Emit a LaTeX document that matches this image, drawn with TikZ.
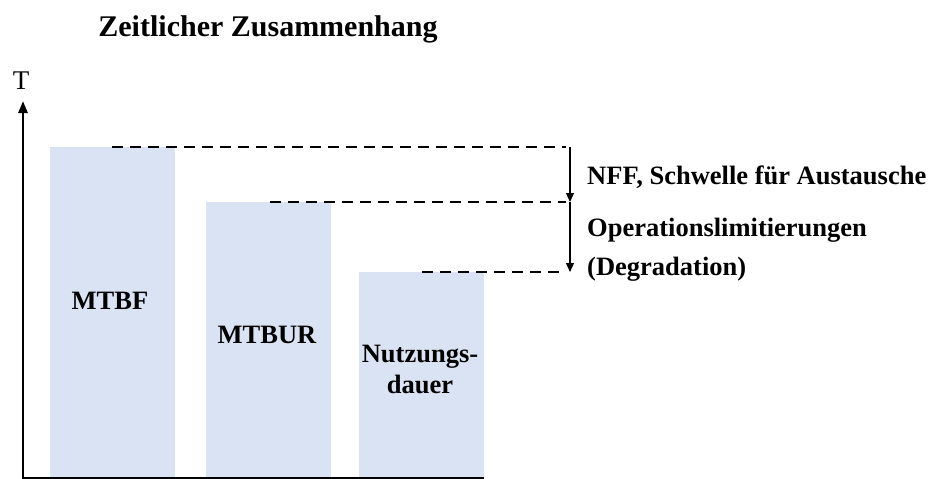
\documentclass[tikz,border=0pt]{standalone}
\usepackage{fontspec}
\setmainfont{Liberation Serif}
\usetikzlibrary{arrows.meta}
\definecolor{barfill}{HTML}{DAE3F3}
\begin{document}
\begin{tikzpicture}[x=1pt,y=-1pt,
  bar/.style={fill=barfill,draw=none},
  lbl/.style={font=\bfseries\fontsize{26.5}{31}\selectfont,inner sep=0pt},
  guide/.style={line width=2.6pt,dash pattern=on 11pt off 7pt},
  axis/.style={line width=2.6pt,-{Triangle[width=9pt,length=12pt]}},
  span/.style={line width=1.2pt,-{Triangle[width=8pt,length=9pt]}}]
\useasboundingbox (0,0) rectangle (934,479);
% bars
\fill[bar] (50,147) rectangle (175,477);
\fill[bar] (206,202) rectangle (331,477);
\fill[bar] (359,272) rectangle (484,477);
% axes
\coordinate (o) at (23,478);
\coordinate (ytop) at (23,101);
\coordinate (xend) at (484,478);
\draw[line width=2.6pt] (21.7,478) -- (xend);
\draw[axis] (o) -- (ytop);
\node[font=\fontsize{27}{32}\selectfont,inner sep=0pt,anchor=base] (T) at (21,89) {T};
% dashed guide levels
\coordinate (l1s) at (112,147); \coordinate (l1e) at (566,147);
\coordinate (l2s) at (270,202); \coordinate (l2e) at (566,202);
\coordinate (l3s) at (422,272); \coordinate (l3e) at (566,272);
\draw[guide] (l1s) -- (l1e);
\draw[guide] (l2s) -- (l2e);
\draw[guide] (l3s) -- (l3e);
% spans between levels
\coordinate (a1) at (570,147); \coordinate (a2) at (570,202); \coordinate (a3) at (570,272);
\draw[span] (a1) -- (a2);
\draw[span] (a2) -- (a3);
% labels
\node[lbl,font=\bfseries\fontsize{30}{36}\selectfont,anchor=base] (title) at (268,36) {Zeitlicher Zusammenhang};
\node[lbl,anchor=base] (mtbf) at (110,309) {MTBF};
\node[lbl,anchor=base] (mtbur) at (267,343) {MTBUR};
\node[lbl,anchor=base] (nd1) at (420,362) {Nutzungs-};
\node[lbl,anchor=base] (nd2) at (420,393) {dauer};
\node[lbl,anchor=base west] (nff) at (587,184) {NFF, Schwelle für Austausche};
\node[lbl,anchor=base west] (op1) at (587,236) {Operationslimitierungen};
\node[lbl,anchor=base west] (op2) at (587,275) {(Degradation)};
\end{tikzpicture}
\end{document}
